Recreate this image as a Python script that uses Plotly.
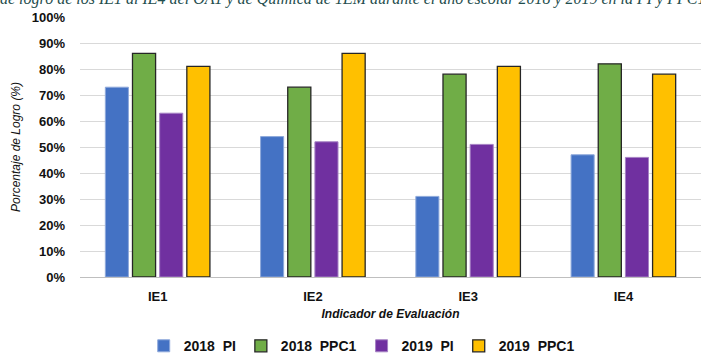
import plotly.graph_objects as go

# Achievement percentage per evaluation indicator
indicadores = ["IE1", "IE2", "IE3", "IE4"]
pi_2018 = [73, 54, 31, 47]
ppc1_2018 = [86, 73, 78, 82]
pi_2019 = [63, 52, 51, 46]
ppc1_2019 = [81, 86, 81, 78]

serie_nombres = ["2018\u00a0\u00a0PI", "2018\u00a0\u00a0PPC1", "2019\u00a0\u00a0PI", "2019\u00a0\u00a0PPC1"]
y_ticks = [0, 10, 20, 30, 40, 50, 60, 70, 80, 90, 100]
y_tick_labels = [f"{v}%" for v in y_ticks]

caption = ("de logro de los IE1 al IE4 del OA1 y de Química de 1EM durante "
           "el año escolar 2018 y 2019 en la PI y PPC1")

series = [
    (serie_nombres[0], pi_2018, "#4472C4", "#8EA9DB", 1),
    (serie_nombres[1], ppc1_2018, "#70AD47", "#262626", 1.3),
    (serie_nombres[2], pi_2019, "#7030A0", "#A682C4", 1),
    (serie_nombres[3], ppc1_2019, "#FFC000", "#262626", 1.3),
]

fig = go.Figure()
for nombre, valores, color, borde, ancho in series:
    fig.add_trace(go.Bar(
        x=indicadores, y=valores, name=nombre,
        marker=dict(color=color, line=dict(color=borde, width=ancho)),
    ))

font_family = "Liberation Sans, Arial, sans-serif"

fig.update_layout(
    width=701, height=354,
    margin=dict(l=80, r=0, t=17, b=77, autoexpand=False),
    paper_bgcolor="white", plot_bgcolor="white",
    barmode="group", bargap=0.30, bargroupgap=0.15,
    font=dict(family=font_family, color="#262626"),
    showlegend=True,
    legend=dict(
        orientation="h", xref="container", x=0.205, xanchor="left",
        yref="container", y=0.022, yanchor="middle",
        font=dict(size=14, weight="bold", color="#111111"),
        itemwidth=30, tracegroupgap=0, bgcolor="rgba(0,0,0,0)",
    ),
    xaxis=dict(
        automargin=False,
        showgrid=False, showline=True, linecolor="#BFBFBF", linewidth=1,
        ticks="", ticklabelstandoff=7,
        tickfont=dict(size=13, weight="bold", color="#111111"),
        title=dict(text="Indicador de Evaluación", standoff=7,
                   font=dict(size=12, weight="bold", style="italic", color="#111111")),
    ),
    yaxis=dict(
        automargin=False,
        range=[0, 100], tickvals=y_ticks, ticktext=y_tick_labels,
        showgrid=True, gridcolor="#D9D9D9", gridwidth=1,
        zeroline=False, showline=False, ticks="", ticklabelstandoff=14,
        tickfont=dict(size=13, weight="bold", color="#111111"),
        title=dict(text="Porcentaje de Logro (%)", standoff=8,
                   font=dict(size=12, style="italic", color="#111111")),
    ),
    annotations=[dict(
        text=caption, xref="paper", yref="paper",
        x=-0.132, xanchor="left", y=1.068, yanchor="middle",
        showarrow=False,
        font=dict(family="Liberation Serif, serif", size=16, style="italic", color="#1F4E4E"),
    )],
)

fig.write_html("out.html")
